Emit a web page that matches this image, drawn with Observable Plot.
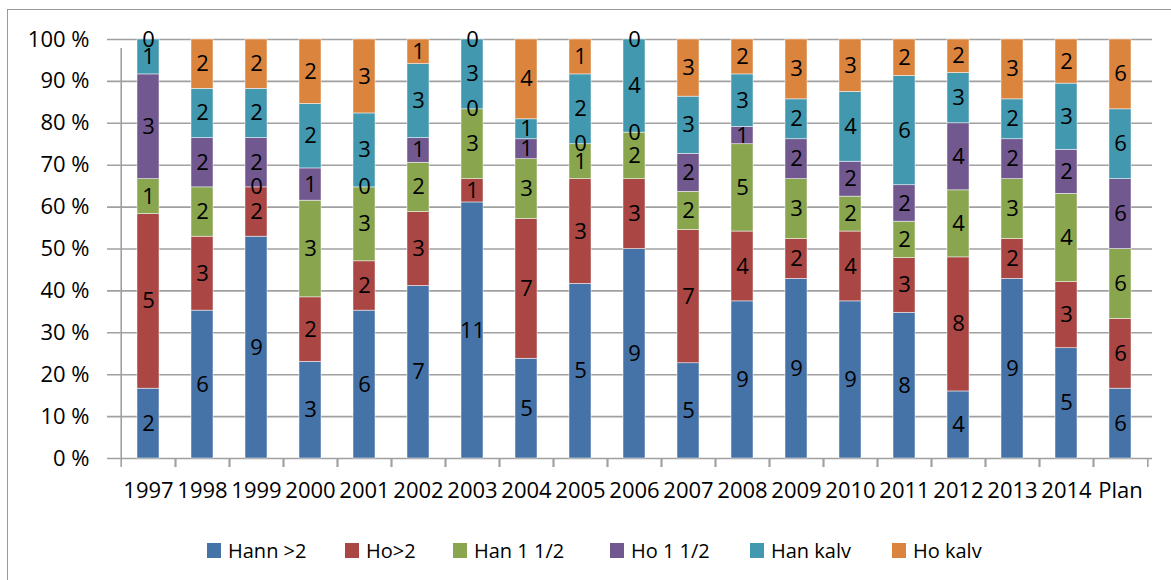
<!DOCTYPE html>
<html>
<head>
<meta charset="utf-8">
<script src="https://cdn.jsdelivr.net/npm/d3@7"></script>
<script src="https://cdn.jsdelivr.net/npm/@observablehq/plot@0.6"></script>
<style>
  html, body { margin: 0; padding: 0; background: #fff; }
  #wrap { position: relative; width: 1171px; height: 580px; overflow: hidden; font-family: "Open Sans", Lato, sans-serif; }
  #frame { position: absolute; left: 7px; top: 9px; width: 1170px; height: 600px; border: 1px solid #9a9a9a; box-sizing: border-box; }
  #chart { position: absolute; left: 0; top: 0; }
  #legend { position: absolute; left: 0; top: 537px; width: 1171px; height: 26px; }
  .item { position: absolute; top: 0; display: flex; align-items: center; font-size: 20px; color: #000; height: 26px; white-space: nowrap; }
  .sw { width: 14px; height: 15px; margin-right: 7px; }
</style>
</head>
<body>
<div id="wrap">
  <div id="frame"></div>
  <div id="chart"></div>
  <div id="legend"></div>
</div>
<script>
const categories = ["1997","1998","1999","2000","2001","2002","2003","2004","2005","2006","2007","2008","2009","2010","2011","2012","2013","2014","Plan"];
const seriesNames = ["Hann >2","Ho>2","Han 1 1/2","Ho 1 1/2","Han kalv","Ho kalv"];
const colors = ["#4572A7","#AA4643","#89A54E","#71588F","#4198AF","#DB843D"];
const hann2   = [2,6,9,3,6,7,11,5,5,9,5,9,9,9,8,4,9,5,6];
const ho2     = [5,3,2,2,2,3,1,7,3,3,7,4,2,4,3,8,2,3,6];
const han15   = [1,2,0,3,3,2,3,3,1,2,2,5,3,2,2,4,3,4,6];
const ho15    = [3,2,2,1,0,1,0,1,0,0,2,1,2,2,2,4,2,2,6];
const hankalv = [1,2,2,2,3,3,3,1,2,4,3,3,2,4,6,3,2,3,6];
const hokalv  = [0,2,2,2,3,1,0,4,1,0,3,2,3,3,2,2,3,2,6];
const yTicks = [0,0.1,0.2,0.3,0.4,0.5,0.6,0.7,0.8,0.9,1];

const seriesValues = [hann2, ho2, han15, ho15, hankalv, hokalv];
const data = [];
categories.forEach((c, i) => {
  seriesNames.forEach((s, j) => data.push({cat: c, series: s, value: seriesValues[j][i]}));
});

const W = 1171, H = 580;
const mL = 115, mR = 19, mT = 39, mB = 122;
const step = (W - mL - mR) / categories.length;
const gray = "#a0a0a0";

const plot = Plot.plot({
  width: W, height: H,
  marginLeft: mL, marginRight: mR, marginTop: mT, marginBottom: mB,
  style: {fontFamily: "'Open Sans', Lato, sans-serif", fontSize: "22px", color: "#000", background: "transparent", overflow: "visible"},
  x: {domain: categories, paddingInner: 0.6, paddingOuter: 0.3, label: null},
  y: {domain: [0, 1], label: null},
  color: {domain: seriesNames, range: colors},
  marks: [
    Plot.ruleY(yTicks, {y: d => d, stroke: gray, strokeWidth: 1.6, insetLeft: -8}),
    Plot.barY(data, Plot.stackY({x: "cat", y: "value", fill: "series", z: "series", order: seriesNames, offset: "normalize", stroke: "#ffffff", strokeWidth: 0.6, strokeOpacity: 0.8})),
    Plot.text(data, Plot.stackY({x: "cat", y: "value", z: "series", order: seriesNames, offset: "normalize", text: d => String(d.value), fill: "#000", fontSize: 22})),
    Plot.ruleX([0], {x: () => categories[0], dx: -step / 2, y1: 0, y2: 1, stroke: gray, strokeWidth: 1.6, insetBottom: -9}),
    Plot.ruleX(categories, {x: d => d, dx: step / 2, y1: 0, y2: 0, stroke: gray, strokeWidth: 1.6, insetBottom: -9}),
    Plot.ruleX(categories, {x: d => d, dx: -step / 2, y1: 0, y2: 0, stroke: gray, strokeWidth: 1.6, insetBottom: -9}),
    Plot.axisY({ticks: yTicks, tickSize: 0, tickPadding: 26, tickFormat: d => Math.round(d * 100) + " %", fontSize: 22}),
    Plot.axisX({tickSize: 0, tickPadding: 24, fontSize: 22})
  ]
});
document.getElementById("chart").appendChild(plot);

const legendX = [207, 345, 453, 610, 750, 892];
const legend = document.getElementById("legend");
seriesNames.forEach((s, j) => {
  const it = document.createElement("div");
  it.className = "item";
  it.style.left = legendX[j] + "px";
  const sw = document.createElement("span");
  sw.className = "sw";
  sw.style.background = colors[j];
  const t = document.createElement("span");
  t.textContent = s;
  it.appendChild(sw); it.appendChild(t);
  legend.appendChild(it);
});
</script>
</body>
</html>
